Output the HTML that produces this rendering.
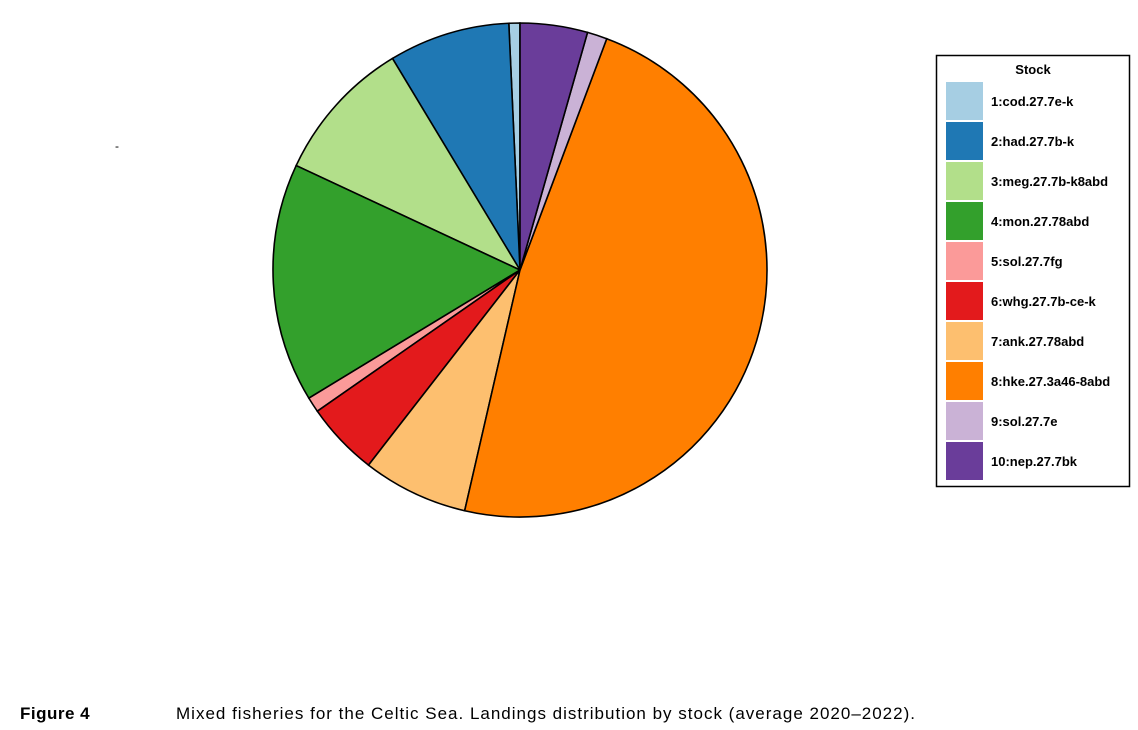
<!DOCTYPE html>
<html><head><meta charset="utf-8"><style>
body{margin:0;width:1138px;height:730px;background:#fff;font-family:"Liberation Sans",sans-serif;overflow:hidden;position:relative}
#cap{position:absolute;top:704px;left:20px;font-size:17px;color:#000;white-space:nowrap}
</style></head><body>
<svg width="1138" height="690" style="position:absolute;left:0;top:0">
<g id="pie"></g>
<text x="115" y="150" font-size="12">-</text>
<rect x="936.5" y="55.5" width="193" height="431" fill="#fff" stroke="#000" stroke-width="1.5"/>
<text x="1033" y="74" font-size="13" font-weight="bold" text-anchor="middle">Stock</text>
<g id="legend"></g>
</svg>
<div id="cap"><b style="display:inline-block;width:156px;letter-spacing:0.5px">Figure 4</b><span style="letter-spacing:1px">Mixed fisheries for the Celtic Sea. Landings distribution by stock (average 2020–2022).</span></div>
<script>
const stocks=["1:cod.27.7e-k","2:had.27.7b-k","3:meg.27.7b-k8abd","4:mon.27.78abd","5:sol.27.7fg","6:whg.27.7b-ce-k","7:ank.27.78abd","8:hke.27.3a46-8abd","9:sol.27.7e","10:nep.27.7bk"];
const values=[0.72,7.9,9.4,15.6,1.0,4.8,6.9,47.8,1.3,4.4];
const colors=["#a6cee3","#1f78b4","#b2df8a","#33a02c","#fb9a99","#e31a1c","#fdbf6f","#ff7f00","#cab2d6","#6a3d9a"];
const NS="http://www.w3.org/2000/svg";
const cx=520,cy=270,r=247;
const total=values.reduce((a,b)=>a+b,0);
const pie=document.getElementById('pie');
let a=0;
function pt(t){return [cx-r*Math.sin(t),cy-r*Math.cos(t)];}
values.forEach((v,i)=>{
 const a1=a+v/total*2*Math.PI;
 const p0=pt(a),p1=pt(a1);
 const large=(a1-a)>Math.PI?1:0;
 const p=document.createElementNS(NS,'path');
 p.setAttribute('d',`M${cx},${cy}L${p0[0]},${p0[1]}A${r},${r} 0 ${large} 0 ${p1[0]},${p1[1]}Z`);
 p.setAttribute('fill',colors[i]);p.setAttribute('stroke','#000');p.setAttribute('stroke-width','1.6');
 
 
 pie.appendChild(p);a=a1;
});
const lg=document.getElementById('legend');
stocks.forEach((s,i)=>{
 const y=82+i*40;
 const rc=document.createElementNS(NS,'rect');
 rc.setAttribute('x',946);rc.setAttribute('y',y);rc.setAttribute('width',37);rc.setAttribute('height',38);rc.setAttribute('fill',colors[i]);
 
 
 lg.appendChild(rc);
 const t=document.createElementNS(NS,'text');
 t.setAttribute('x',991);t.setAttribute('y',y+24);t.setAttribute('font-size','13');t.setAttribute('font-weight','bold');t.textContent=s;
 
 
 lg.appendChild(t);
});
</script>
</body></html>
